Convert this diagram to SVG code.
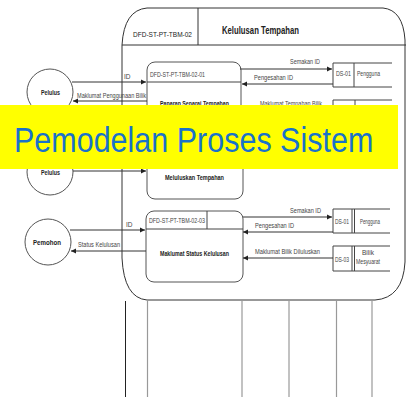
<svg xmlns="http://www.w3.org/2000/svg" width="406" height="397" viewBox="0 0 406 397">
<defs>
<marker id="ah" markerUnits="userSpaceOnUse" markerWidth="6" markerHeight="6" refX="5" refY="3" orient="auto">
<path d="M0,0.5 L5,3 L0,5.5 z" fill="#222"/>
</marker>
<style>
.t{font-family:"Liberation Sans",Arial,sans-serif;fill:#222}
.s{font-size:6.5px;fill:#444}
.b{font-size:6.5px;font-weight:bold}
.ln{stroke:#333;stroke-width:1;fill:none}
.pr{stroke:#555;stroke-width:1;fill:#fff}
.fl{stroke:#333;stroke-width:1;fill:none;marker-end:url(#ah)}
.ds{stroke:#444;stroke-width:1;fill:none}
.vl{stroke:#999;stroke-width:1.2}
</style>
</defs>
<rect width="406" height="397" fill="#fff"/>

<g id="frame">
<path class="ln" d="M122,45 Q124,10 147,8 L383,8 Q403,10 405,40 L405,262 Q403,298 375,300 L147,300 Q124,298 122,258 Z"/>
<line class="ln" x1="122" y1="45" x2="406" y2="45"/>
<line class="ln" x1="198" y1="8" x2="198" y2="45"/>
<text class="t" x="133" y="37" font-size="8" textLength="59" lengthAdjust="spacingAndGlyphs">DFD-ST-PT-TBM-02</text>
<text class="t" x="222" y="34" font-size="11" font-weight="bold" textLength="77" lengthAdjust="spacingAndGlyphs">Kelulusan Tempahan</text>
</g>

<g id="lanes">
<line x1="125.5" y1="301" x2="125.5" y2="397" stroke="#222" stroke-width="1"/>
<line class="vl" x1="147.5" y1="301" x2="147.5" y2="397"/>
<line class="vl" x1="242" y1="301" x2="242" y2="397"/>
<line class="vl" x1="289" y1="301" x2="289" y2="397"/>
<line class="vl" x1="336.5" y1="301" x2="336.5" y2="397"/>
<line class="vl" x1="372" y1="301" x2="372" y2="397"/>
</g>

<g id="pelulus1">
<circle cx="50" cy="92" r="23" class="pr"/>
<text class="t b" x="41" y="95" textLength="19" lengthAdjust="spacingAndGlyphs">Pelulus</text>
</g>
<g id="pelulus2">
<circle cx="50" cy="172" r="23" class="pr"/>
<text class="t b" x="41" y="175" textLength="19" lengthAdjust="spacingAndGlyphs">Pelulus</text>
</g>
<g id="pemohon">
<circle cx="48" cy="242" r="23" class="pr"/>
<text class="t b" x="33" y="245" textLength="28" lengthAdjust="spacingAndGlyphs">Pemohon</text>
</g>

<g id="proc1">
<rect x="147" y="62" width="94" height="56" rx="8" class="pr"/>
<line class="ds" x1="147" y1="82" x2="241" y2="82"/>
<text class="t s" x="150" y="77" textLength="55" lengthAdjust="spacingAndGlyphs">DFD-ST-PT-TBM-02-01</text>
<text class="t b" x="160" y="106" textLength="69" lengthAdjust="spacingAndGlyphs">Paparan Senarai Tempahan</text>
</g>
<g id="proc2">
<rect x="147" y="126" width="96" height="73" rx="8" class="pr"/>
<text class="t b" x="165" y="180" textLength="59" lengthAdjust="spacingAndGlyphs">Meluluskan Tempahan</text>
</g>
<g id="proc3">
<rect x="146" y="211" width="97" height="71" rx="8" class="pr"/>
<line class="ds" x1="146" y1="229" x2="243" y2="229"/>
<line class="ds" x1="207" y1="211" x2="207" y2="229"/>
<text class="t s" x="149" y="223" textLength="56" lengthAdjust="spacingAndGlyphs">DFD-ST-PT-TBM-02-03</text>
<text class="t b" x="160" y="256" textLength="69" lengthAdjust="spacingAndGlyphs">Maklumat Status Kelulusan</text>
</g>

<g id="ds01a">
<path class="ds" d="M392,63 L333,63 L333,87 L392,87 M354,63 L354,87"/>
<text class="t s" x="336" y="76" textLength="15" lengthAdjust="spacingAndGlyphs">DS-01</text>
<text class="t s" x="357" y="76" fill="#222" textLength="23" lengthAdjust="spacingAndGlyphs">Pengguna</text>
</g>
<g id="ds02">
<path class="ds" d="M392,100 L333,100 L333,124 L392,124 M355,100 L355,124"/>
<text class="t s" x="336" y="113" textLength="15" lengthAdjust="spacingAndGlyphs">DS-02</text>
<text class="t s" x="358" y="113" textLength="25" lengthAdjust="spacingAndGlyphs">Tempahan</text>
</g>
<g id="ds01b">
<path class="ds" d="M390,209 L333,209 L333,233 L390,233 M352,209 L352,233 M354.5,209 L354.5,233"/>
<text class="t s" x="335" y="224" textLength="14" lengthAdjust="spacingAndGlyphs">DS-01</text>
<text class="t s" x="360" y="224" fill="#222" textLength="20" lengthAdjust="spacingAndGlyphs">Pengguna</text>
</g>
<g id="ds03">
<path class="ds" d="M390,246 L333,246 L333,271 L390,271 M352,246 L352,271 M354.5,246 L354.5,271"/>
<text class="t s" x="335" y="262" textLength="14" lengthAdjust="spacingAndGlyphs">DS-03</text>
<text class="t s" x="368" y="255" text-anchor="middle" fill="#222">Bilik</text>
<text class="t s" x="356" y="264" fill="#222" textLength="24" lengthAdjust="spacingAndGlyphs">Mesyuarat</text>
</g>

<g id="connectors">
<line class="fl" x1="72" y1="82" x2="146" y2="82"/>
<text class="t s" x="124" y="79">ID</text>
<line class="fl" x1="147" y1="101" x2="73" y2="101"/>
<text class="t s" x="77" y="98" textLength="69" lengthAdjust="spacingAndGlyphs">Maklumat Penggunaan Bilik</text>
<line class="fl" x1="240" y1="69" x2="332" y2="69"/>
<text class="t s" x="290" y="64" textLength="30" lengthAdjust="spacingAndGlyphs">Semakan ID</text>
<line class="fl" x1="333" y1="84" x2="242" y2="84"/>
<text class="t s" x="254" y="80" textLength="39" lengthAdjust="spacingAndGlyphs">Pengesahan ID</text>
<line class="fl" x1="333" y1="110" x2="242" y2="110"/>
<text class="t s" x="260" y="106" textLength="62" lengthAdjust="spacingAndGlyphs">Maklumat Tempahan Bilik</text>
<line class="fl" x1="73" y1="171" x2="146" y2="171"/>
<line class="fl" x1="70" y1="230" x2="145" y2="230"/>
<text class="t s" x="126" y="227">ID</text>
<line class="fl" x1="146" y1="251" x2="71" y2="251"/>
<text class="t s" x="78" y="247" textLength="42" lengthAdjust="spacingAndGlyphs">Status Kelulusan</text>
<line class="fl" x1="243" y1="217" x2="332" y2="217"/>
<text class="t s" x="290" y="213" textLength="31" lengthAdjust="spacingAndGlyphs">Semakan ID</text>
<line class="fl" x1="333" y1="232" x2="243" y2="232"/>
<text class="t s" x="255" y="228" textLength="39" lengthAdjust="spacingAndGlyphs">Pengesahan ID</text>
<line class="fl" x1="333" y1="258" x2="243" y2="258"/>
<text class="t s" x="255" y="254" textLength="65" lengthAdjust="spacingAndGlyphs">Maklumat Bilik Diluluskan</text>
</g>

<g id="banner">
<rect x="0" y="105" width="398" height="64" fill="#ffff00"/>
<text transform="translate(14,152) scale(1,1.12)" x="0" y="0" font-family="Liberation Sans,Arial,sans-serif" font-size="30.5" fill="#1a72c9">Pemodelan Proses Sistem</text>
</g>
</svg>
